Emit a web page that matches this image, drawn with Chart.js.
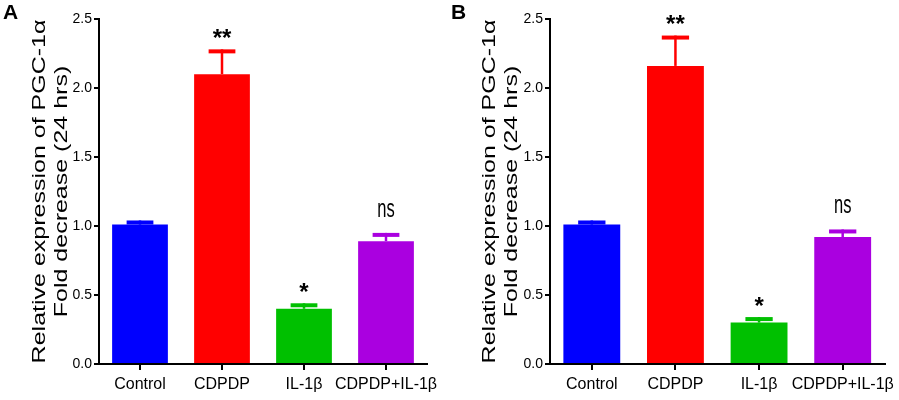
<!DOCTYPE html>
<html>
<head>
<meta charset="utf-8">
<script src="https://cdn.jsdelivr.net/npm/chart.js@4.4.1/dist/chart.umd.min.js"></script>
<style>
  body { margin: 0; background: #fff; }
  #wrap { position: relative; width: 899px; height: 400px; }
  canvas { position: absolute; top: 0; }
  #grafA { left: 0; }
  #grafB { left: 450px; }
</style>
</head>
<body>
<div id="wrap">
  <canvas id="grafA" width="450" height="400"></canvas>
  <canvas id="grafB" width="449" height="400"></canvas>
</div>
<script>
const categorias = ['Control', 'CDPDP', 'IL-1β', 'CDPDP+IL-1β'];
const colores = ['#0000FF', '#FF0000', '#00C000', '#AA00E0'];
const ticksY = [0, 0.5, 1.0, 1.5, 2.0, 2.5];

// panel A
const mediasA = [1.01, 2.10, 0.40, 0.89];
const erroresA = [0.03, 0.18, 0.04, 0.06];
// panel B
const mediasB = [1.01, 2.16, 0.30, 0.92];
const erroresB = [0.03, 0.22, 0.04, 0.055];

const marcas = ['', '**', '*', 'ns'];

const tituloY = ['Relative expression of PGC-1α', 'Fold decrease (24 hrs)'];
const fuente = "'Liberation Sans', Arial, sans-serif";

// barras de error (solo mitad superior), asteriscos, titulo del eje y letra del panel
const pluginErrores = {
    id: 'errores',
    afterDatasetsDraw(chart, args, opts) {
        const ctx = chart.ctx;
        const y = chart.scales.y;
        const meta = chart.getDatasetMeta(0);
        const datos = chart.data.datasets[0].data;
        ctx.save();
        meta.data.forEach((barra, i) => {
            const v = datos[i];
            const tope = y.getPixelForValue(v + opts.errores[i]);
            const base = y.getPixelForValue(v);
            const capW = barra.width * 0.48;
            ctx.strokeStyle = colores[i];
            ctx.fillStyle = colores[i];
            ctx.lineWidth = 2.5;
            ctx.beginPath();
            ctx.moveTo(barra.x, base);
            ctx.lineTo(barra.x, tope);
            ctx.stroke();
            ctx.fillRect(barra.x - capW / 2, tope, capW, 4);

            const txt = marcas[i];
            if (!txt) return;
            ctx.fillStyle = '#000';
            ctx.textAlign = 'center';
            ctx.textBaseline = 'alphabetic';
            let centro;
            if (txt.includes('*')) {
                ctx.font = 'bold 24px ' + fuente;
                centro = tope - 16;
            } else {
                ctx.font = '25px ' + fuente;
                centro = tope - 23;
            }
            const m = ctx.measureText(txt);
            const yTxt = centro - (m.actualBoundingBoxDescent - m.actualBoundingBoxAscent) / 2;
            ctx.save();
            ctx.translate(barra.x, yTxt);
            if (txt === 'ns') ctx.scale(0.66, 1);
            ctx.fillText(txt, 0, 0);
            ctx.restore();
        });

        // titulo del eje Y, dos lineas, algo comprimido como en la figura
        const area = chart.chartArea;
        const cy = (area.top + area.bottom) / 2;
        ctx.fillStyle = '#000';
        ctx.font = '25px ' + fuente;
        ctx.textAlign = 'center';
        ctx.textBaseline = 'middle';
        tituloY.forEach((linea, k) => {
            ctx.save();
            ctx.translate(40 + k * 22, cy);
            ctx.rotate(-Math.PI / 2);
            ctx.scale(1, 0.75);
            ctx.fillText(linea, 0, 0);
            ctx.restore();
        });

        ctx.font = 'bold 21px ' + fuente;
        ctx.textAlign = 'left';
        ctx.textBaseline = 'alphabetic';
        ctx.fillText(opts.letra, opts.letraX, 19);
        ctx.restore();
    }
};

function crearGrafica(id, medias, errores, letra, letraX, anchoY, padDer) {
    return new Chart(document.querySelector(id), {
        type: 'bar',
        data: {
            labels: categorias,
            datasets: [{
                data: medias,
                backgroundColor: colores,
                borderWidth: 0,
                categoryPercentage: 1,
                barPercentage: 0.68,
            }],
        },
        plugins: [pluginErrores],
        options: {
            responsive: false,
            animation: false,
            layout: { padding: { left: 0, top: 19, right: padDer, bottom: 0 } },
            plugins: {
                legend: { display: false },
                tooltip: { enabled: false },
                errores: { errores: errores, letra: letra, letraX: letraX },
            },
            scales: {
                y: {
                    min: 0,
                    max: 2.5,
                    afterBuildTicks: (s) => { s.ticks = ticksY.map(v => ({ value: v })); },
                    afterFit: (s) => { s.width = anchoY; },
                    border: { display: true, color: '#000', width: 2 },
                    grid: {
                        drawOnChartArea: false,
                        drawTicks: true,
                        tickLength: 5,
                        tickColor: '#000',
                        lineWidth: 2,
                    },
                    ticks: {
                        color: '#000',
                        padding: 2,
                        font: { family: fuente, size: 14 },
                        callback: (v) => Number(v).toFixed(1),
                    },
                },
                x: {
                    afterFit: (s) => { s.height = 36; },
                    border: { display: true, color: '#000', width: 2 },
                    grid: {
                        offset: false,
                        drawOnChartArea: false,
                        drawTicks: true,
                        tickLength: 6,
                        tickColor: '#000',
                        lineWidth: 2,
                    },
                    ticks: {
                        color: '#000',
                        padding: 5,
                        maxRotation: 0,
                        autoSkip: false,
                        font: { family: fuente, size: 16 },
                    },
                },
            },
        },
    });
}

crearGrafica('#grafA', mediasA, erroresA, 'A', 3, 99, 23);
crearGrafica('#grafB', mediasB, erroresB, 'B', 1, 100, 2);
</script>
</body>
</html>
